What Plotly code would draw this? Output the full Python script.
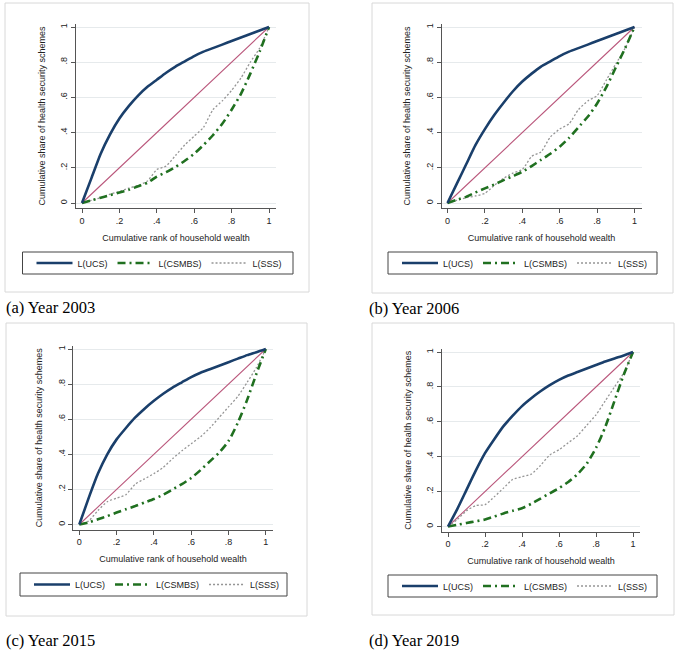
import plotly.graph_objects as go

# ---------------- data ----------------
rank = [0, .05, .1, .15, .2, .25, .3, .35, .4, .45, .5, .55, .6, .65, .7, .75, .8, .85, .9, .95, 1]
equality = [0, 1]

ucs_2003 = [0, .14, .28, .39, .48, .55, .61, .66, .70, .74, .775, .805, .835, .86, .88, .90, .92, .94, .96, .98, 1]
csmbs_2003 = [0, .015, .03, .045, .06, .075, .095, .115, .15, .175, .205, .24, .28, .33, .385, .45, .53, .62, .735, .86, 1]
sss_2003 = [0, .015, .03, .05, .065, .085, .10, .125, .19, .21, .27, .33, .38, .43, .53, .58, .64, .71, .80, .88, 1]

ucs_2006 = [0, .11, .22, .33, .42, .50, .57, .635, .69, .735, .775, .805, .835, .86, .88, .90, .92, .94, .96, .98, 1]
csmbs_2006 = [0, .018, .035, .06, .083, .105, .13, .153, .177, .21, .245, .28, .32, .37, .43, .49, .565, .66, .77, .88, 1]
sss_2006 = [0, .015, .03, .04, .055, .10, .14, .17, .19, .265, .29, .375, .42, .45, .53, .58, .61, .70, .79, .88, 1]

ucs_2015 = [0, .15, .29, .40, .485, .55, .61, .66, .705, .745, .78, .81, .84, .865, .885, .905, .925, .945, .965, .982, 1]
csmbs_2015 = [0, .012, .03, .048, .068, .087, .105, .125, .145, .17, .20, .23, .265, .31, .36, .41, .475, .58, .71, .86, 1]
sss_2015 = [0, .02, .08, .13, .15, .17, .23, .26, .29, .325, .375, .42, .46, .50, .55, .61, .67, .73, .81, .895, 1]

ucs_2019 = [0, .10, .21, .32, .42, .50, .575, .635, .69, .735, .775, .81, .84, .865, .885, .905, .925, .945, .963, .98, 1]
csmbs_2019 = [0, .01, .02, .03, .04, .057, .075, .09, .105, .13, .16, .19, .22, .255, .30, .36, .45, .57, .72, .87, 1]
sss_2019 = [0, .04, .09, .12, .125, .17, .22, .27, .285, .30, .35, .41, .44, .48, .52, .58, .64, .72, .80, .88, 1]

series_names = ["L(UCS)", "L(CSMBS)", "L(SSS)"]
tick_vals = [0, .2, .4, .6, .8, 1]
tick_text = ["0", ".2", ".4", ".6", ".8", "1"]
captions = ["(a) Year 2003", "(b) Year 2006", "(c) Year 2015", "(d) Year 2019"]
x_title = "Cumulative rank of household wealth"
y_title = "Cumulative share of health security schemes"

years_data = [
    (ucs_2003, csmbs_2003, sss_2003),
    (ucs_2006, csmbs_2006, sss_2006),
    (ucs_2015, csmbs_2015, sss_2015),
    (ucs_2019, csmbs_2019, sss_2019),
]

# ---------------- layout geometry (pixels) ----------------
W, H = 685, 655
# data anchors: x=0 px, x=1 px, y=0 px, y=1 px
anchors = [(82, 269, 203, 27), (447.5, 634.5, 203, 27),
           (79.3, 265.8, 524.5, 349), (448, 633, 526.5, 352)]
frames = [(5, 3, 309, 292), (372, 3, 673, 293), (6, 323, 307, 616), (372, 323, 674, 615)]
leg_boxes = [(22.5, 252, 293, 274), (388, 252, 657, 274), (20, 573, 287, 596), (388, 575, 657, 597)]
cap_pos = [(4, 307), (367, 308), (4, 640), (367, 640)]

FONT = "Liberation Sans, Arial, sans-serif"
SERIF = "Liberation Serif, Times New Roman, serif"
C_UCS = "#1a3f6b"
C_CSMBS = "#207020"
C_SSS = "#959595"
C_EQ = "#b9557a"
AX = "#555555"
GRID = "#e6eaec"

def px(x):
    return x / W

def py(y):
    return 1 - y / H

fig = go.Figure()
shapes = []
annotations = []
layout_axes = {}
legends = {}

for i, (data, anc) in enumerate(zip(years_data, anchors)):
    n = "" if i == 0 else str(i + 1)
    xa, ya = "x" + n, "y" + n
    leg = "legend" + n
    X0, X1, Y0, Y1 = anc
    sx, sy = X1 - X0, Y0 - Y1
    lpad, rpad, bpad, tpad = 6, 7, 5, 3

    fig.add_trace(go.Scatter(x=equality, y=equality, mode="lines", xaxis=xa, yaxis=ya,
                             line=dict(color=C_EQ, width=1.1), showlegend=False, hoverinfo="skip"))
    styles = [dict(color=C_UCS, width=2.6),
              dict(color=C_CSMBS, width=2.6, dash="8px,4px,2px,4px"),
              dict(color=C_SSS, width=1.3, dash="2px,2px")]
    order = [2, 1, 0]
    for k in order:
        fig.add_trace(go.Scatter(x=rank, y=data[k], mode="lines", name=series_names[k],
                                 xaxis=xa, yaxis=ya, legend=leg, legendrank=k + 1,
                                 line=dict(shape="spline", smoothing=0.6, **styles[k])))

    common = dict(showline=True, linecolor=AX, linewidth=1, ticks="outside", ticklen=4,
                  tickcolor=AX, tickwidth=1, tickvals=tick_vals, ticktext=tick_text,
                  tickfont=dict(family=FONT, size=9, color="#222"), zeroline=False,
                  fixedrange=True, automargin=False)
    layout_axes["xaxis" + n] = dict(
        domain=[px(X0 - lpad), px(X1 + rpad)], range=[-lpad / sx, 1 + rpad / sx],
        anchor=ya, showgrid=False,
        title=dict(text=x_title, font=dict(family=FONT, size=9, color="#222"), standoff=9),
        **common)
    layout_axes["yaxis" + n] = dict(
        domain=[py(Y0 + bpad), py(Y1 - tpad)], range=[-bpad / sy, 1 + tpad / sy],
        anchor=xa, showgrid=True, gridcolor=GRID, gridwidth=1, tickangle=-90,
        title=dict(text=y_title, font=dict(family=FONT, size=9, color="#222"), standoff=12),
        **common)

    fx0, fy0, fx1, fy1 = frames[i]
    shapes.append(dict(type="rect", xref="paper", yref="paper", x0=px(fx0), x1=px(fx1),
                       y0=py(fy1), y1=py(fy0), line=dict(color="#d8d8d8", width=1), layer="below"))
    bx0, by0, bx1, by1 = leg_boxes[i]
    shapes.append(dict(type="rect", xref="paper", yref="paper", x0=px(bx0), x1=px(bx1),
                       y0=py(by1), y1=py(by0), line=dict(color="#444444", width=1)))
    legends[leg] = dict(orientation="h", x=px(bx0 + 9), y=py((by0 + by1) / 2),
                        xanchor="left", yanchor="middle", bgcolor="rgba(0,0,0,0)",
                        borderwidth=0, font=dict(family=FONT, size=9, color="#222"),
                        itemwidth=36,
                        traceorder="normal", itemclick=False, itemdoubleclick=False)
    cx, cy = cap_pos[i]
    annotations.append(dict(text=captions[i], xref="paper", yref="paper", x=px(cx), y=py(cy),
                            xanchor="left", yanchor="middle", showarrow=False,
                            font=dict(family=SERIF, size=16.5, color="#000")))

fig.update_layout(width=W, height=H, margin=dict(l=0, r=0, t=0, b=0),
                  paper_bgcolor="white", plot_bgcolor="white",
                  shapes=shapes, annotations=annotations, **layout_axes, **legends)
fig.write_html("out.html", config={"displayModeBar": False},
               post_script="document.body.style.margin='0';document.body.style.overflow='hidden';")
